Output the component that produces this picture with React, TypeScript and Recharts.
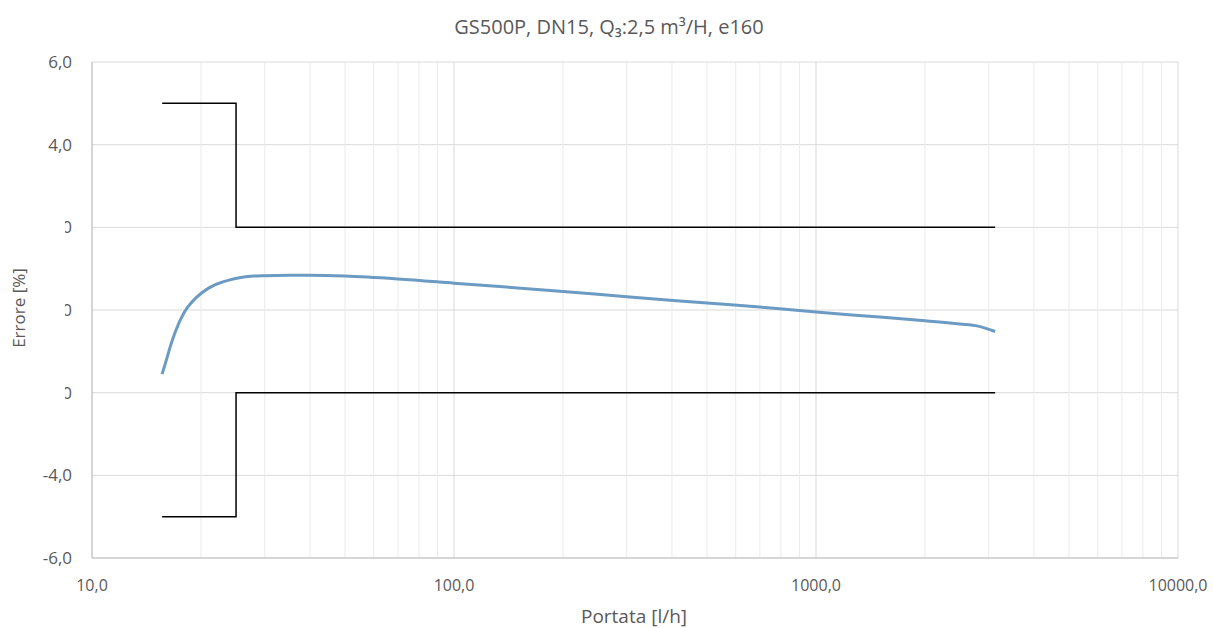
import React from "react";
import { LineChart, Line, XAxis, YAxis, CartesianGrid, ReferenceLine } from "recharts";

const curveX = [15.625, 16, 16.5, 17, 18, 19, 20, 21, 22, 24, 26, 28, 30, 35, 40, 50, 70, 100, 200, 300, 500, 700, 1000, 1500, 2000, 2500, 2800, 3125];
const curveY = [-1.55, -1.25, -0.85, -0.52, -0.05, 0.22, 0.4, 0.53, 0.62, 0.73, 0.79, 0.82, 0.83, 0.84, 0.84, 0.82, 0.75, 0.65, 0.45, 0.32, 0.17, 0.07, -0.05, -0.17, -0.26, -0.34, -0.39, -0.52];

const upperX = [15.625, 25, 25, 3125];
const upperY = [5, 5, 2, 2];
const lowerX = [15.625, 25, 25, 3125];
const lowerY = [-5, -5, -2, -2];

const xTicks = [10, 100, 1000, 10000];
const yTicks = [-6, -4, -2, 0, 2, 4, 6];
const clippedYTicks = [-2, 0, 2];
const minorX = [20, 30, 40, 50, 60, 70, 80, 90, 200, 300, 400, 500, 600, 700, 800, 900, 2000, 3000, 4000, 5000, 6000, 7000, 8000, 9000];

const curve = curveX.map((x, i) => ({ x, y: curveY[i] }));
const upper = upperX.map((x, i) => ({ x, y: upperY[i] }));
const lower = lowerX.map((x, i) => ({ x, y: lowerY[i] }));

const fmt = (v: number) => v.toFixed(1).replace(".", ",");
const FONT = "'Open Sans', sans-serif";
const TXT = "#595959";

const YTick = (props: any) => {
  const { x, y, payload } = props;
  const v = payload.value;
  const clipped = clippedYTicks.includes(v);
  const id = `clip-y-${String(v).replace("-", "m")}`;
  const right = x - 12;
  return (
    <g>
      {clipped && (
        <defs>
          <clipPath id={id}>
            <rect x={right - 7} y={y - 14} width={7} height={28} />
          </clipPath>
        </defs>
      )}
      <text
        x={right}
        y={y}
        dy={6}
        textAnchor="end"
        fill={TXT}
        fontSize={17}
        fontFamily={FONT}
        clipPath={clipped ? `url(#${id})` : undefined}
      >
        {fmt(v)}
      </text>
    </g>
  );
};

export default function App() {
  return (
    <div style={{ position: "absolute", left: 0, top: 0, width: 1213, height: 628, background: "#fff" }}>
      <LineChart width={1213} height={628} margin={{ top: 62, right: 35, bottom: 40, left: 12 }}>
        <text x={609} y={34} textAnchor="middle" fill={TXT} fontSize={20} fontFamily={FONT}>
          GS500P, DN15, Q₃:2,5 m³/H, e160
        </text>
        <text x={634} y={623} textAnchor="middle" fill={TXT} fontSize={19} fontFamily={FONT}>
          Portata [l/h]
        </text>
        <text x={0} y={0} transform="translate(25,308) rotate(-90)" textAnchor="middle" fill={TXT} fontSize={17} fontFamily={FONT}>
          Errore [%]
        </text>
        {minorX.map((v) => (
          <ReferenceLine key={v} x={v} stroke="#ebebeb" strokeWidth={1} ifOverflow="hidden" />
        ))}
        <CartesianGrid stroke="#d9d9d9" verticalValues={xTicks} horizontalValues={yTicks} />
        <XAxis
          type="number"
          dataKey="x"
          scale="log"
          domain={[10, 10000]}
          ticks={xTicks}
          allowDataOverflow
          tickLine={false}
          axisLine={{ stroke: "#bfbfbf" }}
          tickFormatter={fmt}
          tick={{ fill: TXT, fontSize: 16, fontFamily: FONT }}
          tickMargin={16}
          height={30}
        />
        <YAxis
          type="number"
          domain={[-6, 6]}
          ticks={yTicks}
          tickLine={false}
          axisLine={{ stroke: "#bfbfbf" }}
          tick={<YTick />}
          width={80}
        />
        <Line data={upper} dataKey="y" type="linear" stroke="#000" strokeWidth={1.5} dot={false} isAnimationActive={false} />
        <Line data={lower} dataKey="y" type="linear" stroke="#000" strokeWidth={1.5} dot={false} isAnimationActive={false} />
        <Line data={curve} dataKey="y" type="monotone" stroke="#6b9bc3" strokeWidth={3} dot={false} isAnimationActive={false} />
      </LineChart>
    </div>
  );
}
